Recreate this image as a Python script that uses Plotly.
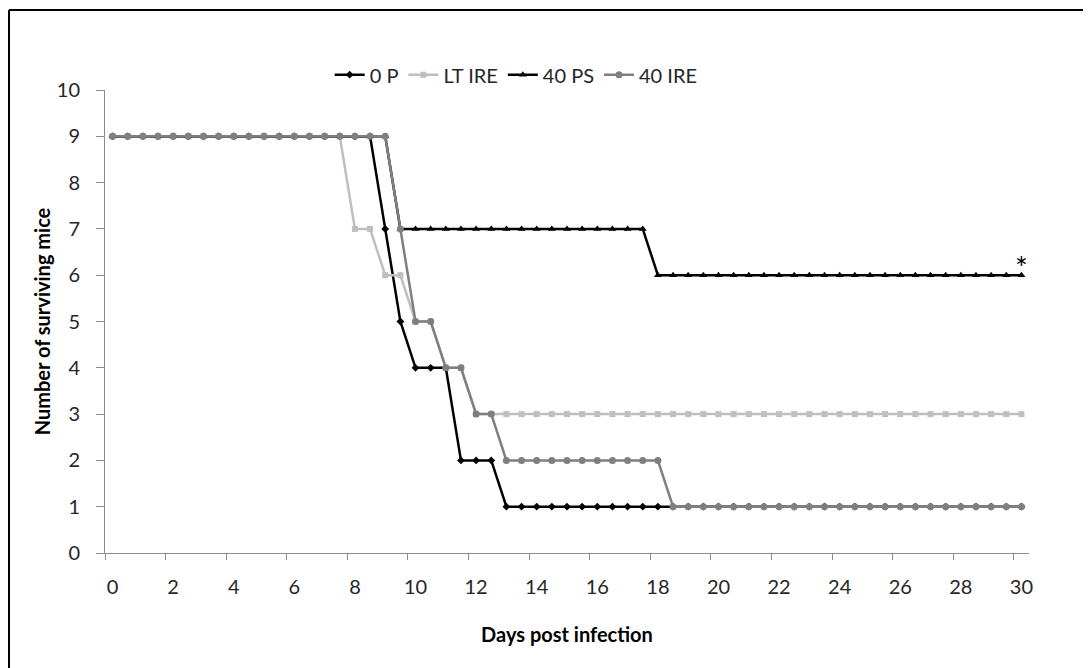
import plotly.graph_objects as go

days = [0, 0.5, 1, 1.5, 2, 2.5, 3, 3.5, 4, 4.5, 5, 5.5, 6, 6.5, 7, 7.5, 8, 8.5, 9, 9.5,
        10, 10.5, 11, 11.5, 12, 12.5, 13, 13.5, 14, 14.5, 15, 15.5, 16, 16.5, 17, 17.5,
        18, 18.5, 19, 19.5, 20, 20.5, 21, 21.5, 22, 22.5, 23, 23.5, 24, 24.5, 25, 25.5,
        26, 26.5, 27, 27.5, 28, 28.5, 29, 29.5, 30]

p0 = [9]*18 + [7, 5, 4, 4, 4, 2, 2, 2] + [1]*35
lt_ire = [9]*16 + [7, 7, 6, 6, 5, 5, 4, 4] + [3]*37
ps40 = [9]*19 + [7]*17 + [6]*25
ire40 = [9]*19 + [7, 5, 5, 4, 4, 3, 3] + [2]*11 + [1]*24

tick_labels = ["0", "2", "4", "6", "8", "10", "12", "14", "16", "18", "20", "22", "24", "26", "28", "30"]
tick_vals = [0, 2, 4, 6, 8, 10, 12, 14, 16, 18, 20, 22, 24, 26, 28, 30]

FONT = "Lato, Open Sans, sans-serif"
TXT = "#262626"

fig = go.Figure()
series = [
    ("0 P", p0, "#000000", "diamond", 6),
    ("LT IRE", lt_ire, "#BFBFBF", "square", 6),
    ("40 PS", ps40, "#000000", "triangle-up", 7),
    ("40 IRE", ire40, "#7F7F7F", "circle", 7),
]
for name, vals, col, sym, sz in series:
    fig.add_trace(go.Scatter(
        x=days, y=vals, name=name, mode="lines+markers",
        line=dict(color=col, width=2.5),
        marker=dict(symbol=sym, size=sz, color=col),
    ))

fig.add_annotation(x=days[-1], y=ps40[-1], text="*", showarrow=False, yshift=8,
                   font=dict(family=FONT, size=30, color="#000"))

fig.update_layout(
    width=1083, height=660,
    margin=dict(l=97, r=62, t=82, b=115),
    paper_bgcolor="white", plot_bgcolor="white",
    font=dict(family=FONT, size=20, color=TXT),
    showlegend=True,
    legend=dict(orientation="h", x=0.445, xanchor="center", y=1.033, yanchor="middle",
                font=dict(family=FONT, size=20, color=TXT),
                itemwidth=30, tracegroupgap=0, bgcolor="rgba(0,0,0,0)"),
    xaxis=dict(
        range=[-0.25, 30.25], tickvals=tick_vals, ticktext=tick_labels, ticks="",
        showgrid=False, zeroline=False, showline=True, linecolor="#8C8C8C", linewidth=1,
        tickfont=dict(family=FONT, size=20, color=TXT), ticklabelstandoff=16,
        minor=dict(tick0=-0.25, dtick=2, ticks="outside", ticklen=6, tickcolor="#8C8C8C", showgrid=False),
        title=dict(text="<b>Days post infection</b>", font=dict(family=FONT, size=20, color="#000"), standoff=30),
    ),
    yaxis=dict(
        range=[0, 10], dtick=1, ticks="outside", ticklen=8, tickcolor="#8C8C8C",
        showgrid=False, zeroline=False, showline=True, linecolor="#8C8C8C", linewidth=1,
        tickfont=dict(family=FONT, size=20, color=TXT), ticklabelstandoff=12,
        title=dict(text="<b>Number of surviving mice</b>", font=dict(family=FONT, size=20, color="#000"), standoff=0),
    ),
    shapes=[
        dict(type="line", xref="paper", yref="paper", x0=-0.1039, x1=1.1, y0=1.1728, y1=1.1728,
             line=dict(color="black", width=2)),
        dict(type="line", xref="paper", yref="paper", x0=-0.1039, x1=-0.1039, y0=1.1728, y1=-0.25,
             line=dict(color="black", width=2)),
    ],
)

fig.write_html("out.html")
